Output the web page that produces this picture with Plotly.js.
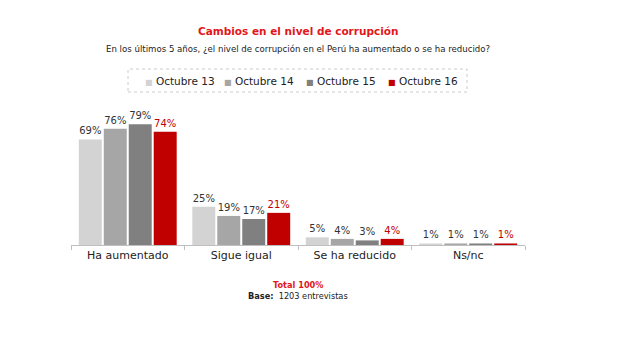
<!DOCTYPE html>
<html><head><meta charset="utf-8">
<script src="https://cdn.plot.ly/plotly-3.0.1.min.js"></script>
<style>body{margin:0;background:#fff}#c{width:640px;height:357px}</style>
</head><body><div id="c"></div>
<script>
const categories = ["Ha aumentado", "Sigue igual", "Se ha reducido", "Ns/nc"];
const seriesNames = ["Octubre 13", "Octubre 14", "Octubre 15", "Octubre 16"];
const oct13 = [69, 25, 5, 1];
const oct14 = [76, 19, 4, 1];
const oct15 = [79, 17, 3, 1];
const oct16 = [74, 21, 4, 1];
const seriesValues = [oct13, oct14, oct15, oct16];
const colors = ["#d3d3d3", "#a6a6a6", "#808080", "#c00000"];
const labelColors = ["#333333", "#333333", "#333333", "#c00000"];
const font = "DejaVu Sans, Verdana, sans-serif";

const traces = seriesValues.map((vals, i) => ({
  type: "bar", name: seriesNames[i], x: categories, y: vals,
  marker: {color: colors[i]},
  text: vals.map(v => v + "%"), textposition: "outside", cliponaxis: false,
  textfont: {color: labelColors[i], size: 10, family: font},
  hoverinfo: "none", showlegend: false
}));

// manual legend (real text) positioned in pixels converted to paper coords
const plotL = 71, plotW = 454, plotT = 92, plotH = 153;
const px = x => (x - plotL) / plotW;
const py = y => (plotT - y) / plotH + 1;
const legendX = [147, 226, 308, 390];
const legendAnn = seriesNames.map((n, i) => ({
  text: "<span style='color:" + colors[i] + ";font-size:8px'>■</span> " + n,
  xref: "paper", yref: "paper", showarrow: false, x: px(legendX[i] - 4), y: py(81),
  xanchor: "left", yanchor: "middle", font: {size: 10.5, color: "#222", family: font}
}));

const layout = {
  width: 640, height: 357,
  margin: {l: plotL, r: 640 - plotL - plotW, t: plotT, b: 357 - plotT - plotH},
  paper_bgcolor: "#fff", plot_bgcolor: "#fff",
  barmode: "group", bargap: 0.12, bargroupgap: 0.08,
  font: {family: font, size: 10, color: "#222"},
  showlegend: false,
  xaxis: {type: "category", showline: true, linecolor: "#bfbfbf", linewidth: 1,
          ticks: "outside", tickson: "boundaries", ticklen: 4, tickcolor: "#bfbfbf",
          tickfont: {size: 11, color: "#222", family: font}, showgrid: false, zeroline: false},
  yaxis: {range: [0, 100], visible: false, showgrid: false, zeroline: false},
  shapes: [{type: "rect", xref: "paper", yref: "paper", x0: px(128), x1: px(467), y0: py(92), y1: py(69),
            line: {color: "#cccccc", width: 1, dash: "dot"}}],
  annotations: [
    {text: "<b>Cambios en el nivel de corrupción</b>", xref: "paper", yref: "paper", showarrow: false,
     x: px(298), y: py(31), xanchor: "center", yanchor: "middle", font: {size: 10.5, color: "#e3161b", family: font}},
    {text: "En los últimos 5 años, ¿el nivel de corrupción en el Perú ha aumentado o se ha reducido?", xref: "paper", yref: "paper", showarrow: false,
     x: px(298), y: py(49), xanchor: "center", yanchor: "middle", font: {size: 8.6, color: "#222", family: font}},
    {text: "<b>Total 100%</b>", xref: "paper", yref: "paper", showarrow: false,
     x: px(298), y: py(285), xanchor: "center", yanchor: "middle", font: {size: 8.2, color: "#e3161b", family: font}},
    {text: "<b>Base:</b>  1203 entrevistas", xref: "paper", yref: "paper", showarrow: false,
     x: px(298), y: py(296), xanchor: "center", yanchor: "middle", font: {size: 8.2, color: "#222", family: font}}
  ].concat(legendAnn)
};
Plotly.newPlot("c", traces, layout, {displayModeBar: false, staticPlot: true});
</script></body></html>
